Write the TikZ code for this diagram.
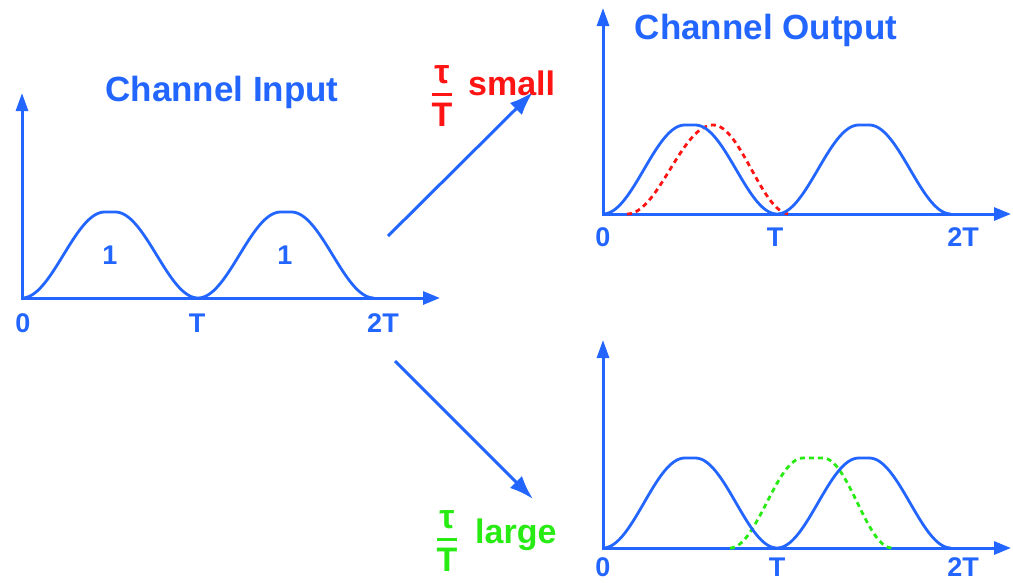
\documentclass[tikz,border=0pt]{standalone}
\usepackage{amsmath}
\usepackage{fontspec}
\setmainfont{Liberation Sans}
\usetikzlibrary{arrows.meta}

\definecolor{sigblue}{RGB}{35,102,255}
\definecolor{sigred}{RGB}{255,20,20}
\definecolor{siggreen}{RGB}{40,235,20}

\begin{document}
\begin{tikzpicture}[x=1pt, y=-1pt,
  axis/.style={draw=sigblue, line width=3pt,
               {Triangle[length=18pt,width=12pt]}-{Triangle[length=17pt,width=13pt]}},
  pulse/.style={draw=sigblue, line width=2.8pt},
  delayed/.style={line width=2.8pt, dash pattern=on 5pt off 4pt},
  title/.style={font=\fontsize{35}{40}\selectfont\bfseries, text=sigblue,
                anchor=base, inner sep=0pt},
  tick/.style={font=\fontsize{27}{30}\selectfont\bfseries, text=sigblue,
               anchor=base, inner sep=0pt},
  ratio/.style={font=\fontsize{34}{40}\selectfont\bfseries, inner sep=0pt},
  route/.style={draw=sigblue, line width=3pt, -{Latex[length=24pt,width=17pt]}},
  declare function={rc(\t)=ifthenelse(\t<0.47,(1-cos(180/0.47*\t))/2,
                    ifthenelse(\t>0.53,(1-cos(180/0.47*(1-\t)))/2,1));}
]
\useasboundingbox (0,0) rectangle (1013,582);

% input
\coordinate (inTop) at (22,93);
\coordinate (inEnd) at (440,298);
\draw[axis] (inTop) |- (inEnd);
\foreach \a in {22,198}
  \draw[pulse] plot[domain=0:1, samples=80] ({\a+176*\x},{298-86*rc(\x)});
\node[title] (intitle) at (222,101) {Channel Input};
\node[tick] (one1) at (110,264) {1};
\node[tick] (one2) at (285,264) {1};
\node[tick] (in0) at (23,332) {0};
\node[tick] (inT) at (197,332) {T};
\node[tick] (in2T) at (383,332) {2T};

% output, small delay
\coordinate (upTop) at (603,8);
\coordinate (upEnd) at (1011,214);
\draw[axis] (upTop) |- (upEnd);
\draw[delayed, sigred]
  plot[domain=627:713, samples=40] (\x,{214-89*(1-cos((\x-627)*180/86))/2})
  -- plot[domain=713:790, samples=40] (\x,{214-89*(1+cos((\x-713)*180/77))/2});
\foreach \a in {603,777}
  \draw[pulse] plot[domain=0:1, samples=80] ({\a+174*\x},{214-89*rc(\x)});
\node[title] (outtitle) at (766,39) {Channel Output};
\node[tick] (up0) at (603,246) {0};
\node[tick] (upT) at (775,246) {T};
\node[tick] (up2T) at (963,246) {2T};

% output, large delay
\coordinate (loTop) at (603,340);
\coordinate (loEnd) at (1011,548);
\draw[axis] (loTop) |- (loEnd);
\draw[delayed, siggreen]
  plot[domain=730:803, samples=40] (\x,{548-90*(1-cos((\x-730)*180/73))/2})
  -- (823,458)
  -- plot[domain=823:892, samples=40] (\x,{548-90*(1+cos((\x-823)*180/69))/2});
\foreach \a in {603,777}
  \draw[pulse] plot[domain=0:1, samples=80] ({\a+174*\x},{548-90*rc(\x)});
\node[tick] (lo0) at (603,576) {0};
\node[tick] (loT) at (777,576) {T};
\node[tick] (lo2T) at (963,576) {2T};

% routes
\coordinate (upFrom) at (388,236);
\coordinate (upTo) at (533,92);
\coordinate (loFrom) at (395,361);
\coordinate (loTo) at (533,499);
\draw[route] (upFrom) -- (upTo);
\draw[route] (loFrom) -- (loTo);

\node[ratio, text=sigred, anchor=base] (tausmall) at (442,100.5)
  {$\genfrac{}{}{2.5pt}{0}{\text{τ}}{\text{T}}$};
\node[ratio, text=sigred, anchor=base west] (small) at (468,95) {small};
\node[ratio, text=siggreen, anchor=base] (taularge) at (447,545.5)
  {$\genfrac{}{}{2.5pt}{0}{\text{τ}}{\text{T}}$};
\node[ratio, text=siggreen, anchor=base west] (large) at (475,543) {large};
\end{tikzpicture}
\end{document}
